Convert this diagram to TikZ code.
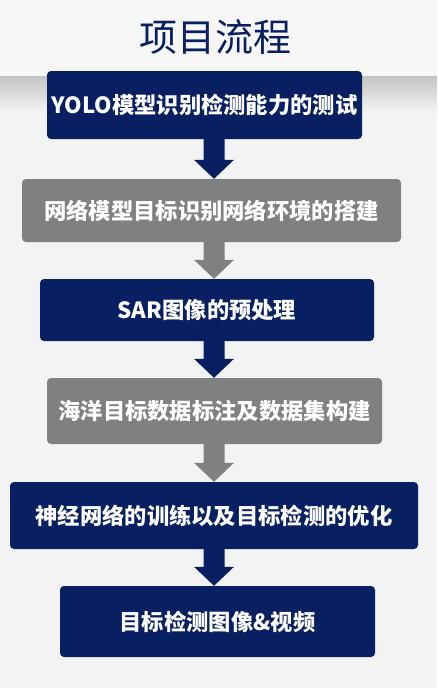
\documentclass[tikz,border=0pt]{standalone}
\usepackage{fontspec}
\setmainfont{Noto Sans CJK SC}
\usepackage{tikz}
\usetikzlibrary{calc}

\definecolor{navy}{RGB}{8,31,98}
\definecolor{stepgray}{RGB}{128,128,128}
\definecolor{bgcol}{RGB}{243,243,243}
\definecolor{topcol}{RGB}{246,246,246}
\definecolor{shadecol}{RGB}{196,196,194}

% block arrow from the bottom of one box to the top of the next
\newcommand{\flowarrow}[3]{%
  \fill[#3] let \p1 = (#1.south), \p2 = (#2.north) in
    (203.5pt,\y1) -- (224.5pt,\y1) -- (224.5pt,\y2+19pt) -- (234pt,\y2+19pt)
    -- (214pt,\y2) -- (194pt,\y2+19pt) -- (203.5pt,\y2+19pt) -- cycle;
}

\begin{document}
\begin{tikzpicture}[
    x=1pt, y=-1pt,
    stepbox/.style={rounded corners=4pt, inner sep=0pt, text=white,
        font=\fontsize{22.3}{25}\selectfont\bfseries},
    darkbox/.style={stepbox, fill=navy},
    greybox/.style={stepbox, fill=stepgray}
]
    % background and header band
    \fill[bgcol] (0,0) rectangle (437,688);
    \fill[topcol] (0,0) rectangle (437,76);
    \shade[top color=shadecol, bottom color=bgcol] (0,76) rectangle (437,112);
    \useasboundingbox (0,0) rectangle (437,688);

    \node[text=navy, font=\fontsize{38}{41}\selectfont] (title) at (215,37) {项目流程};

    \node[darkbox, minimum width=315, minimum height=68] (yolo) at (204.5,105) {YOLO模型识别检测能力的测试};
    \node[greybox, minimum width=379, minimum height=63] (env) at (211.5,210.5) {网络模型目标识别网络环境的搭建};
    \node[darkbox, minimum width=334, minimum height=62] (sar) at (207,310) {SAR图像的预处理};
    \node[greybox, minimum width=335, minimum height=66] (label) at (214.5,411) {海洋目标数据标注及数据集构建};
    \node[darkbox, minimum width=408, minimum height=67] (train) at (214,515.5) {神经网络的训练以及目标检测的优化};
    \node[darkbox, minimum width=315, minimum height=71] (result) at (217.5,621.5) {目标检测图像\&视频};

    \flowarrow{yolo}{env}{navy}
    \flowarrow{env}{sar}{stepgray}
    \flowarrow{sar}{label}{navy}
    \flowarrow{label}{train}{stepgray}
    \flowarrow{train}{result}{navy}
\end{tikzpicture}
\end{document}
